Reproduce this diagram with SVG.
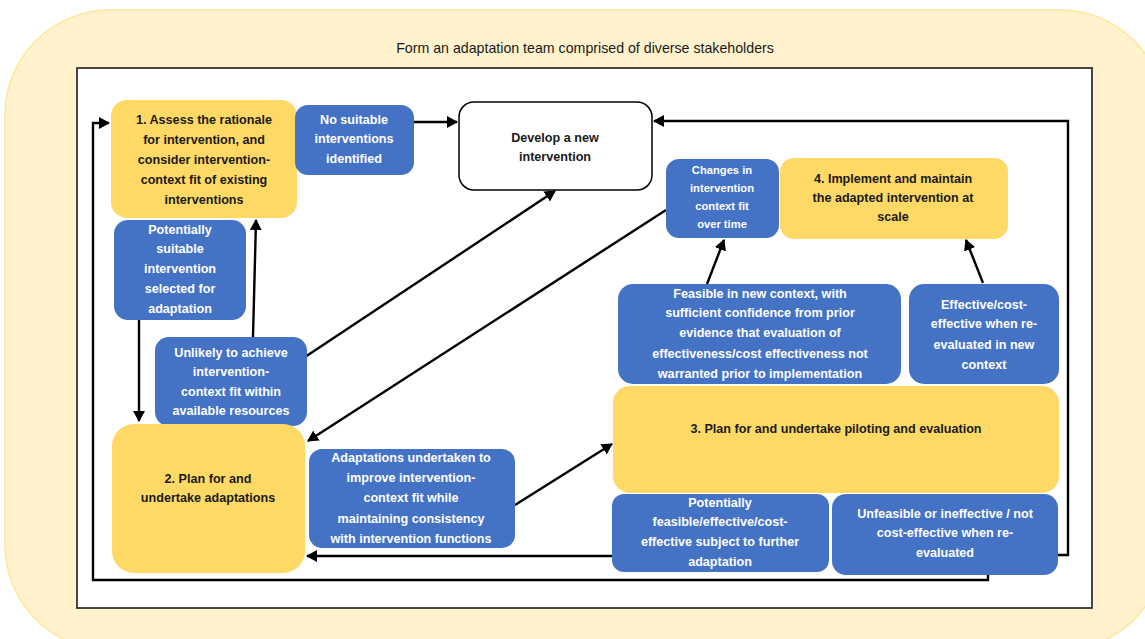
<svg xmlns="http://www.w3.org/2000/svg" width="1145" height="639" viewBox="0 0 1145 639">
<defs>
<style>
.bg{fill:#FFF2CC;stroke:#FFE699;stroke-width:1.5}
.frame{fill:#FFFFFF;stroke:#333333;stroke-width:1.8}
.y{fill:#FFD966}
.b{fill:#4472C4}
.w{fill:#FFFFFF;stroke:#000000;stroke-width:1.5}
.ty{font-family:"Liberation Sans",Arial,sans-serif;font-size:12.6px;font-weight:bold;fill:#1a1a1a;text-anchor:middle}
.tb{font-family:"Liberation Sans",Arial,sans-serif;font-size:12.6px;font-weight:bold;fill:#FFFFFF;text-anchor:middle}
.ts{font-size:11.2px}
.title{font-family:"Liberation Sans",Arial,sans-serif;font-size:14.2px;fill:#1a1a1a;text-anchor:middle}
.c{fill:none;stroke:#000000;stroke-width:2.4}
</style>
<marker id="ah" markerWidth="12" markerHeight="12" refX="10" refY="6" orient="auto" markerUnits="userSpaceOnUse">
<path d="M0,0 L11,6 L0,12 Z" fill="#000000"/>
</marker>
</defs>
<rect class="bg" x="5" y="10" width="1160" height="640" rx="105" ry="105"/>
<text class="title" x="585" y="53">Form an adaptation  team comprised  of diverse stakeholders</text>
<rect class="frame" x="77" y="68" width="1015" height="540"/>

<g id="connectors">
<polyline class="c" points="988,575 988,580 93,580 93,123 109,123" marker-end="url(#ah)"/>
<polyline class="c" points="1058,555 1068,555 1068,121 654,121" marker-end="url(#ah)"/>
<line class="c" x1="414" y1="122" x2="457" y2="122" marker-end="url(#ah)"/>
<line class="c" x1="253" y1="337" x2="256" y2="220" marker-end="url(#ah)"/>
<line class="c" x1="139" y1="320" x2="139" y2="421" marker-end="url(#ah)"/>
<line class="c" x1="305" y1="357" x2="555" y2="191" marker-end="url(#ah)"/>
<line class="c" x1="666" y1="210" x2="308" y2="441" marker-end="url(#ah)"/>
<line class="c" x1="515" y1="505" x2="612" y2="444" marker-end="url(#ah)"/>
<line class="c" x1="612" y1="556" x2="307" y2="556" marker-end="url(#ah)"/>
<line class="c" x1="707" y1="284" x2="724" y2="240" marker-end="url(#ah)"/>
<line class="c" x1="983" y1="283" x2="966" y2="240" marker-end="url(#ah)"/>
</g>

<g id="n1">
<rect class="y" x="111" y="100" width="186" height="118" rx="16"/>
<text class="ty"><tspan x="204" y="124">1. Assess the rationale</tspan><tspan x="204" y="144">for intervention,  and</tspan><tspan x="204" y="164">consider  intervention-</tspan><tspan x="204" y="184">context fit  of existing</tspan><tspan x="204" y="204">interventions</tspan></text>
</g>
<g id="n-nosuitable">
<rect class="b" x="295" y="105" width="119" height="70" rx="13"/>
<text class="tb"><tspan x="354" y="124">No suitable</tspan><tspan x="354" y="143">interventions</tspan><tspan x="354" y="163">identified</tspan></text>
</g>
<g id="n-develop">
<rect class="w" x="459" y="102" width="193" height="88" rx="15"/>
<text class="ty"><tspan x="555" y="142">Develop  a new</tspan><tspan x="555" y="161">intervention</tspan></text>
</g>
<g id="n-potsuitable">
<rect class="b" x="114" y="220" width="132" height="100" rx="14"/>
<text class="tb"><tspan x="180" y="234">Potentially</tspan><tspan x="180" y="253">suitable</tspan><tspan x="180" y="273">intervention</tspan><tspan x="180" y="293">selected  for</tspan><tspan x="180" y="313">adaptation</tspan></text>
</g>
<g id="n-unlikely">
<rect class="b" x="155" y="337" width="152" height="89" rx="14"/>
<text class="tb"><tspan x="231" y="357">Unlikely to achieve</tspan><tspan x="231" y="376">intervention-</tspan><tspan x="231" y="396">context fit  within</tspan><tspan x="231" y="415">available resources</tspan></text>
</g>
<g id="n2">
<rect class="y" x="112" y="424" width="193" height="149" rx="22"/>
<text class="ty"><tspan x="208" y="483">2. Plan  for and</tspan><tspan x="208" y="502">undertake adaptations</tspan></text>
</g>
<g id="n-adaptations">
<rect class="b" x="309" y="449" width="206" height="99" rx="13"/>
<text class="tb"><tspan x="411" y="462">Adaptations  undertaken to</tspan><tspan x="411" y="482">improve intervention-</tspan><tspan x="411" y="502">context fit  while</tspan><tspan x="411" y="523">maintaining  consistency</tspan><tspan x="411" y="543">with intervention  functions</tspan></text>
</g>
<g id="n-changes">
<rect class="b" x="666" y="159" width="113" height="79" rx="13"/>
<text class="tb ts"><tspan x="722" y="174">Changes in</tspan><tspan x="722" y="192">intervention</tspan><tspan x="722" y="210">context fit</tspan><tspan x="722" y="228">over time</tspan></text>
</g>
<g id="n4">
<rect class="y" x="780" y="158" width="228" height="81" rx="14"/>
<text class="ty"><tspan x="893" y="183">4. Implement  and maintain</tspan><tspan x="893" y="202">the adapted  intervention  at</tspan><tspan x="893" y="221">scale</tspan></text>
</g>
<g id="n-feasible">
<rect class="b" x="618" y="284" width="283" height="100" rx="15"/>
<text class="tb"><tspan x="760" y="298">Feasible in new context, with</tspan><tspan x="760" y="317">sufficient  confidence  from prior</tspan><tspan x="760" y="337">evidence that  evaluation  of</tspan><tspan x="760" y="358">effectiveness/cost  effectiveness not</tspan><tspan x="760" y="378">warranted prior  to implementation</tspan></text>
</g>
<g id="n-effective">
<rect class="b" x="909" y="284" width="150" height="100" rx="15"/>
<text class="tb"><tspan x="984" y="309">Effective/cost-</tspan><tspan x="984" y="328">effective when  re-</tspan><tspan x="984" y="349">evaluated in new</tspan><tspan x="984" y="369">context</tspan></text>
</g>
<g id="n3">
<rect class="y" x="613" y="386" width="446" height="107" rx="17"/>
<text class="ty"><tspan x="836" y="433">3. Plan  for and undertake piloting  and evaluation</tspan></text>
</g>
<g id="n-potfeasible">
<rect class="b" x="612" y="494" width="217" height="78" rx="12"/>
<text class="tb"><tspan x="720" y="507">Potentially</tspan><tspan x="720" y="526">feasible/effective/cost-</tspan><tspan x="720" y="546">effective subject to further</tspan><tspan x="720" y="566">adaptation</tspan></text>
</g>
<g id="n-unfeasible">
<rect class="b" x="832" y="494" width="226" height="81" rx="14"/>
<text class="tb"><tspan x="945" y="518">Unfeasible or ineffective  / not</tspan><tspan x="945" y="537">cost-effective  when re-</tspan><tspan x="945" y="557">evaluated</tspan></text>
</g>
</svg>
